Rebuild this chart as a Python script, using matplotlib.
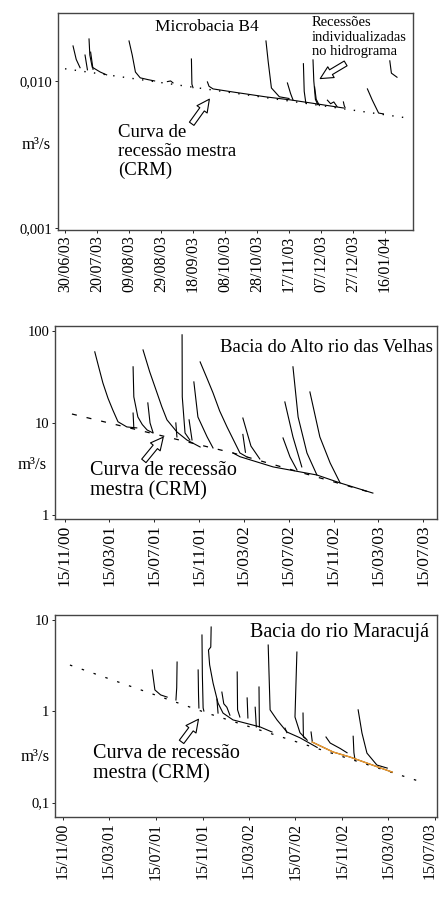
import numpy as np
import pandas as pd
import matplotlib
matplotlib.use("Agg")
import matplotlib.pyplot as plt
from matplotlib.transforms import ScaledTranslation

plt.rcParams['font.family'] = ['Liberation Serif', 'DejaVu Serif']

# ---- Microbacia B4 (days after 30/06/03, flow m3/s) ----
b4_base = '2003-06-30'
b4_crm_days = [0, 214]
b4_crm_q = [0.0121, 0.0056]
b4_days = [
    [5, 7, 9.4], [12.5, 14], [15, 15.5, 17, 22, 26], [16, 17.5],
    [40, 42, 44, 47, 52, 56], [64, 66, 67.5], [79, 79.3, 80],
    [89, 90, 92.5, 105, 126, 141, 157.5, 174],
    [125.6, 127, 129, 134, 140], [139, 141, 142.5], [149, 149.5, 150.5],
    [155, 155.5, 156.5, 158], [156, 157, 159], [164, 166, 168, 170],
    [174, 174.5, 175], [189, 192, 196, 199], [203, 204, 207.5],
]
b4_q = [
    [0.0173, 0.0140, 0.0123], [0.0150, 0.0119],
    [0.0193, 0.0150, 0.0124, 0.0115, 0.0110], [0.0157, 0.0120],
    [0.0187, 0.0150, 0.0115, 0.0105, 0.0102, 0.0100],
    [0.0099, 0.0100, 0.0097], [0.0141, 0.0095, 0.0090],
    [0.00985, 0.0092, 0.00883, 0.00841, 0.00778, 0.00743, 0.00698, 0.00655],
    [0.0187, 0.0135, 0.00896, 0.0078, 0.0076], [0.00969, 0.0082, 0.00743],
    [0.0131, 0.0085, 0.0071], [0.0139, 0.0100, 0.0075, 0.0069],
    [0.0091, 0.0075, 0.0068], [0.0074, 0.0070, 0.0072, 0.0067],
    [0.0072, 0.0068, 0.0066], [0.00883, 0.00743, 0.00605, 0.00597],
    [0.0137, 0.0113, 0.0106],
]
b4_yticks = [0.001, 0.010]
b4_ylabels = ['0,001', '0,010']

# ---- Alto rio das Velhas (days after 15/11/00) ----
base2 = '2000-11-15'
av_crm_days = [19, 456, 836]
av_crm_q = [12.5, 4.72, 1.73]
av_days = [
    [81, 92, 103, 117, 130, 144, 168, 195], [185, 187, 198, 210, 223, 239], [185, 187],
    [225, 231, 239], [212, 230, 250, 263, 277, 304, 331, 367], [301, 304],
    [318, 318.5, 326, 339], [337, 345], [350, 361, 386, 402],
    [367, 385, 402, 420, 440, 475, 494], [483, 505, 529], [483, 490],
    [456, 475, 565, 684, 747, 836],
    [597, 619, 643], [592, 611, 630], [619, 633, 657, 684], [665, 692, 720, 747],
]
av_q = [
    [59.2, 40.0, 27.2, 18.5, 13.8, 10.3, 9.05, 8.83], [40.7, 19.2, 11.6, 9.6, 8.39, 7.78], [12.8, 8.8],
    [16.5, 10.0, 7.9], [62.1, 36.0, 21.2, 15.0, 10.8, 7.98, 6.53, 5.48], [10.0, 7.05],
    [90.6, 19.2, 7.78, 6.53], [10.8, 6.53], [27.9, 11.6, 7.05, 5.35],
    [46.0, 31.0, 21.2, 13.5, 9.05, 4.72, 4.27], [11.3, 5.6, 4.06], [7.5, 4.8],
    [4.72, 4.3, 3.33, 2.72, 2.23, 1.73],
    [16.9, 7.05, 3.33], [6.87, 4.27, 3.08], [40.7, 11.6, 4.72, 2.72], [21.7, 7.05, 3.67, 2.23],
]
av_yticks = [1, 10, 100]
av_ylabels = ['1', '10', '100']

# ---- rio Maracuja (days after 15/11/00) ----
mc_crm_days = [18, 376, 946]
mc_crm_q = [3.18, 0.95, 0.163]
mc_days = [
    [233, 240, 255, 272], [298, 297, 295], [353, 354, 355], [363, 364, 366, 368],
    [387, 386, 380, 383, 392, 405, 418, 444, 515, 546],
    [402, 405], [415, 420, 428, 436], [455, 456, 462], [481, 483], [502, 505],
    [512, 513], [536, 541, 559, 585, 619, 664], [580, 585],
    [611, 606, 619, 638], [627, 628, 634], [648, 651],
    [651, 706, 750, 794, 860], [687, 698, 724, 742], [758, 760, 763],
    [771, 781, 794, 820, 847],
]
mc_q = [
    [2.81, 1.70, 1.50, 1.42], [3.43, 1.8, 1.32], [2.81, 1.5, 1.08], [6.77, 2.5, 1.08, 1.0],
    [8.28, 5.0, 4.64, 3.2, 2.02, 1.22, 0.95, 0.80, 0.67, 0.59],
    [1.35, 0.95], [1.61, 1.2, 1.1, 0.90], [2.67, 1.03, 0.86], [1.39, 0.84], [1.1, 0.67],
    [1.83, 0.67], [5.26, 1.03, 0.80, 0.59, 0.51, 0.40], [0.65, 0.58],
    [4.41, 0.86, 0.58, 0.48], [0.95, 0.52, 0.50], [0.59, 0.47],
    [0.458, 0.356, 0.314, 0.270, 0.215], [0.52, 0.447, 0.39, 0.35], [0.53, 0.35, 0.29],
    [1.03, 0.575, 0.347, 0.257, 0.238],
]
mc_orange_days = [651, 706, 750, 794, 860]
mc_orange_q = [0.458, 0.356, 0.314, 0.270, 0.215]
mc_yticks = [0.1, 1, 10]
mc_ylabels = ['0,1', '1', '10']


def todate(base, days):
    return pd.Timestamp(base) + pd.to_timedelta(np.asarray(days, dtype=float), unit='D')


def setup(ax, xlim, ticks, yticks, ylabels, ylim, xfs):
    ax.set_yscale('log')
    ax.set_ylim(*ylim)
    ax.set_xlim(*xlim)
    ax.set_yticks(yticks)
    ax.set_yticklabels(ylabels, fontsize=10.5)
    ax.yaxis.set_minor_locator(matplotlib.ticker.NullLocator())
    ax.set_xticks(ticks)
    ax.set_xticklabels([t.strftime('%d/%m/%y') for t in ticks], rotation=90, fontsize=xfs)
    ax.tick_params(length=2, width=0.6, pad=2)
    for s in ax.spines.values():
        s.set_color('#444444')
        s.set_linewidth(1.0)


def hollow_arrow(ax, tail, tip):
    ax.annotate('', xy=tip, xytext=tail, xycoords='axes fraction', textcoords='axes fraction',
                arrowprops=dict(arrowstyle='simple,head_length=0.9,head_width=0.9,tail_width=0.4',
                                fc='white', ec='black', lw=0.8))


fig = plt.figure(figsize=(4.41, 8.99), dpi=100)

# panel 1
ax1 = fig.add_axes([0.1315, 0.7442, 0.805, 0.2414])
ax1.plot(todate(b4_base, b4_crm_days), b4_crm_q, color='black', lw=1.0, ls=(0, (1, 6)))
for d, q in zip(b4_days, b4_q):
    ax1.plot(todate(b4_base, d), q, color='black', lw=0.8)
setup(ax1, todate(b4_base, [-4.4, 217.5]), pd.date_range('2003-06-30', periods=11, freq='20D'),
      b4_yticks, b4_ylabels, (0.00097, 0.029), 11.5)
ax1.text(0.42, 0.935, 'Microbacia B4', transform=ax1.transAxes, ha='center', va='center', fontsize=12.5)
ax1.text(0.715, 0.985, 'Recessões\nindividualizadas\nno hidrograma', transform=ax1.transAxes,
         ha='left', va='top', fontsize=10.5, linespacing=1.15)
hollow_arrow(ax1, (0.817, 0.774), (0.732, 0.691))
ax1.text(0.169, 0.49, 'Curva de\nrecessão mestra\n(CRM)', transform=ax1.transAxes,
         ha='left', va='top', fontsize=13.5, linespacing=1.15)
hollow_arrow(ax1, (0.372, 0.479), (0.431, 0.613))
ax1.text(-0.062, 0.392, 'm³/s', transform=ax1.transAxes, ha='center', va='center', fontsize=12)

ticks2 = pd.date_range('2000-11-15', '2003-07-15', freq=pd.DateOffset(months=4))

# panel 2
ax2 = fig.add_axes([0.1247, 0.4227, 0.8662, 0.2147])
ax2.plot(todate(base2, av_crm_days), av_crm_q, color='black', lw=0.9, ls=(0, (4, 8)))
for d, q in zip(av_days, av_q):
    ax2.plot(todate(base2, d), q, color='black', lw=0.8)
setup(ax2, todate(base2, [-27, 1010]), ticks2, av_yticks, av_ylabels, (0.905, 113), 12.5)
ax2.text(0.99, 0.891, 'Bacia do Alto rio das Velhas', transform=ax2.transAxes,
         ha='right', va='center', fontsize=13.5)
ax2.text(0.092, 0.30, 'Curva de recessão\nmestra (CRM)', transform=ax2.transAxes,
         ha='left', va='top', fontsize=14.5, linespacing=1.1)
hollow_arrow(ax2, (0.228, 0.29), (0.288, 0.435))
ax2.text(-0.06, 0.28, 'm³/s', transform=ax2.transAxes, ha='center', va='center', fontsize=12)

# panel 3
ax3 = fig.add_axes([0.1247, 0.0912, 0.8662, 0.2247])
ax3.plot(todate(base2, mc_crm_days), mc_crm_q, color='black', lw=0.9, ls=(0, (2, 8)))
for d, q in zip(mc_days, mc_q):
    ax3.plot(todate(base2, d), q, color='black', lw=0.8)
ax3.plot(todate(base2, mc_orange_days), mc_orange_q, color='#f39c2b', lw=1.0)
setup(ax3, todate(base2, [-21, 977]), ticks2, mc_yticks, mc_ylabels, (0.0695, 11.2), 11.5)
# keep the last date label inside the figure
last = ax3.get_xticklabels()[-1]
last.set_transform(last.get_transform() + ScaledTranslation(-4 / 72, 0, fig.dpi_scale_trans))
ax3.text(0.98, 0.911, 'Bacia do rio Maracujá', transform=ax3.transAxes,
         ha='right', va='center', fontsize=14.5)
ax3.text(0.10, 0.36, 'Curva de recessão\nmestra (CRM)', transform=ax3.transAxes,
         ha='left', va='top', fontsize=14.5, linespacing=1.1)
hollow_arrow(ax3, (0.327, 0.361), (0.38, 0.495))
ax3.text(-0.052, 0.297, 'm³/s', transform=ax3.transAxes, ha='center', va='center', fontsize=12)

fig.savefig('out.png', dpi=100)
